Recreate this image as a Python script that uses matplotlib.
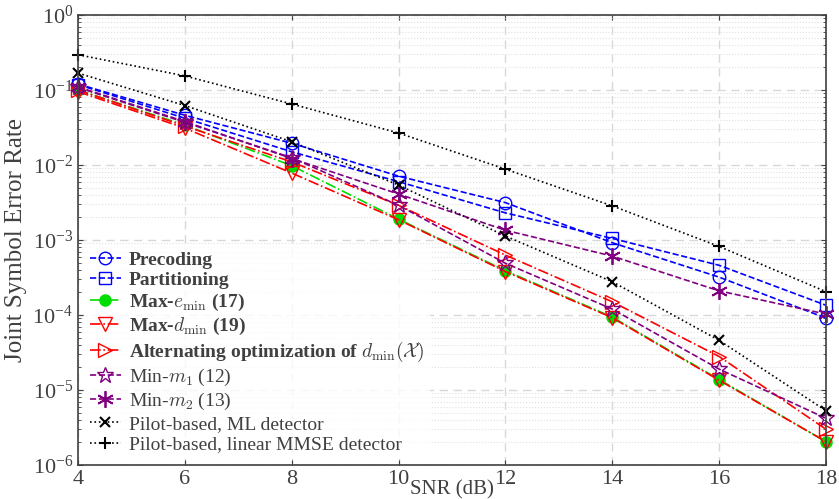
import matplotlib.pyplot as plt
import numpy as np

plt.rcParams.update({
    "font.family": ["Liberation Serif", "DejaVu Serif"],
    "mathtext.fontset": "cm",
    "font.size": 15,
    "text.color": "#404040",
    "axes.labelcolor": "#404040",
    "xtick.color": "#404040",
    "ytick.color": "#404040",
})

snr = [4, 6, 8, 10, 12, 14, 16, 18]

precoding = [0.12, 0.046, 0.0195, 7.1e-3, 3.15e-3, 9.2e-4, 3.2e-4, 9.1e-5]
partitioning = [0.118, 0.042, 0.015, 6.0e-3, 2.3e-3, 1.05e-3, 4.6e-4, 1.35e-4]
max_emin = [0.1, 0.034, 0.0098, 1.9e-3, 3.9e-4, 9.4e-5, 1.38e-5, 2.05e-6]
max_dmin = [0.095, 0.031, 0.0078, 1.86e-3, 3.8e-4, 9.2e-5, 1.35e-5, 2.05e-6]
alt_opt = [0.1, 0.033, 0.011, 2.9e-3, 6.3e-4, 1.5e-4, 2.8e-5, 3.0e-6]
min_m1 = [0.108, 0.037, 0.0125, 2.9e-3, 4.9e-4, 1.2e-4, 1.9e-5, 4.2e-6]
min_m2 = [0.11, 0.038, 0.0122, 4.1e-3, 1.35e-3, 6.1e-4, 2.1e-4, 1.03e-4]
pilot_ml = [0.168, 0.062, 0.0204, 5.4e-3, 1.13e-3, 2.78e-4, 4.6e-5, 5.3e-6]
pilot_mmse = [0.295, 0.154, 0.065, 0.0267, 8.8e-3, 2.85e-3, 8.2e-4, 2.05e-4]

purple = (0.5, 0.0, 0.5)

fig, ax = plt.subplots(figsize=(8.39, 4.99), dpi=100)
fig.subplots_adjust(left=0.093, right=0.9845, top=0.970, bottom=0.068)

ax.plot(snr, precoding, '--', color='blue', marker='o', mfc='none', ms=9,
        lw=1.2, clip_on=False, label="Precoding")
ax.plot(snr, partitioning, '--', color='blue', marker='s', mfc='none', ms=8,
        lw=1.2, clip_on=False, label="Partitioning")
ax.plot(snr, max_emin, '-.', color='#00dd00', marker='o', mfc='#00dd00', ms=8,
        lw=1.2, clip_on=False, label=r"Max-$e_{\min}$ (17)")
ax.plot(snr, max_dmin, '-.', color='red', marker='v', mfc='none', ms=10,
        lw=1.2, clip_on=False, label=r"Max-$d_{\min}$ (19)")
ax.plot(snr, alt_opt, '-.', color='red', marker='>', mfc='none', ms=10,
        lw=1.2, clip_on=False,
        label=r"Alternating optimization of $d_{\min}(\mathcal{X})$")
ax.plot(snr, min_m1, '--', color=purple, marker='*', mfc='none', ms=12,
        lw=1.2, clip_on=False, label=r"Min-$m_1$ (12)")
ax.plot(snr, min_m2, '--', color=purple, marker=(6, 2), ms=12, mew=1.3,
        lw=1.2, clip_on=False, label=r"Min-$m_2$ (13)")
ax.plot(snr, pilot_ml, ':', color='black', marker='x', ms=7, mew=1.5,
        lw=1.2, clip_on=False, label="Pilot-based, ML detector")
ax.plot(snr, pilot_mmse, ':', color='black', marker='+', ms=9, mew=1.5,
        lw=1.2, clip_on=False, label="Pilot-based, linear MMSE detector")

ax.set_yscale('log')
ax.set_xlim(4, 18)
ax.set_ylim(1e-6, 1)
ax.set_xticks(snr)
ax.tick_params(which='both', direction='in', top=True, right=True)
ax.tick_params(axis='both', labelsize=16)
ax.grid(True, which='major', linestyle=(0, (6, 4)), color='#d8d8d8', lw=1)
ax.grid(True, which='minor', linestyle=':', color='#e0e0e0', lw=0.8)
for s in ax.spines.values():
    s.set_color('#404040')
    s.set_linewidth(1.2)

ax.set_xlabel("SNR (dB)", fontsize=15, labelpad=-6)
ax.set_ylabel("Joint Symbol Error Rate", fontsize=18)

leg = ax.legend(loc='lower left', fontsize=14, frameon=True, framealpha=0.8,
                edgecolor='none', handlelength=1.6, handletextpad=0.4,
                labelspacing=0.15, borderaxespad=0.3, borderpad=0.3)
for t in leg.get_texts()[:5]:
    t.set_fontweight('bold')

plt.savefig("out.png", dpi=100)
